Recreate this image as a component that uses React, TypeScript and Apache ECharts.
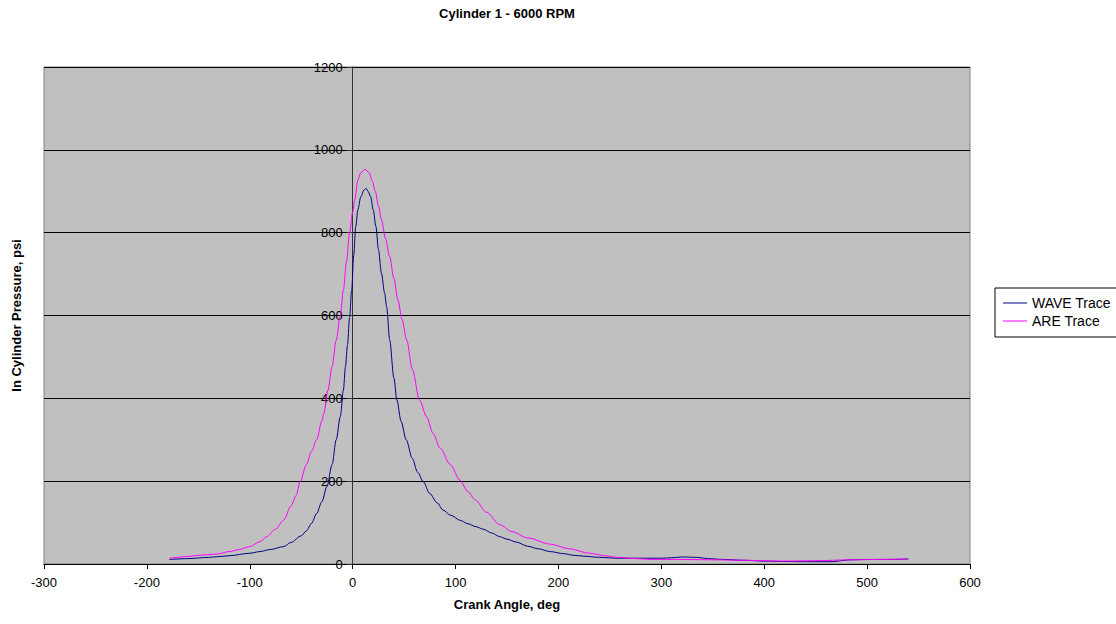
import React, { useEffect, useRef } from "react";
import * as echarts from "echarts";

const TITLE = "Cylinder 1 - 6000 RPM";
const X_NAME = "Crank Angle, deg";
const Y_NAME = "In Cylinder Pressure, psi";
const SERIES_NAMES = ["WAVE Trace", "ARE Trace"];

const waveX = [-178, -160, -140, -132, -120, -100, -90, -80, -67, -60, -50, -45, -40, -35, -30, -25, -20, -16, -12, -9, -7, -5, -3, -1, 1, 3, 5, 8, 11, 13, 15, 17.5, 20, 22.6, 25, 28, 31, 33, 36, 40, 43, 47, 52, 58, 63, 68.6, 75, 82, 88, 95, 105, 111, 120, 127, 135, 143, 150, 159, 170, 180, 192, 205, 215, 224, 240, 257, 280, 300, 310, 320, 335, 345, 360, 380, 400, 418, 440, 467, 475, 483, 500, 520, 540];
const waveY = [11, 13, 16, 17.5, 20, 26, 30, 35, 42, 52, 68, 80, 98, 122, 150, 187, 240, 300, 356, 420, 477, 530, 595, 660, 745, 815, 855, 887, 903, 907, 900, 887, 855, 815, 760, 702, 655, 621, 541, 450, 396, 345, 300, 255, 222, 199, 170, 148, 130, 118, 105, 98, 90, 84, 75, 66, 60, 53, 43, 37, 30, 25, 21, 19, 16, 14, 14, 14, 15, 17, 16, 13, 11, 9, 7, 6, 5.6, 5.6, 8, 10, 11, 11, 12];

const areX = [-178, -160, -150, -132, -120, -110, -100, -90, -83.6, -75, -67, -60, -55, -51, -45, -40, -35, -30, -28, -24, -20, -16, -12, -9, -6, -3, 0, 2, 5, 8, 12, 16, 19, 22, 25, 28, 32, 36, 40, 44, 48, 52.5, 58, 65, 72, 78, 85, 95, 104, 112, 119, 130, 143, 155, 170, 192, 210, 230, 245, 257, 275, 290, 320, 354, 380, 418, 450, 483, 510, 540];
const areY = [14, 18, 21, 24, 30, 35, 42, 54, 66, 84, 106, 140, 165, 199, 240, 272, 300, 345, 364, 420, 477, 540, 600, 662, 730, 800, 850, 879, 927, 945, 953, 945, 925, 900, 865, 831, 785, 742, 690, 638, 590, 541, 470, 396, 355, 316, 280, 240, 203, 175, 155, 125, 95, 78, 63, 48, 37, 26, 20, 16, 13, 11, 11, 10, 9, 7, 8, 10, 11, 12];

const X_MIN = -300;
const X_MAX = 600;

const FONT = "'Liberation Sans', Arial, sans-serif";

export default function App() {
  const ref = useRef<HTMLDivElement>(null);
  useEffect(() => {
    if (!ref.current) return;
    const chart = echarts.init(ref.current, undefined, { renderer: "svg" });
    const zip = (xs: number[], ys: number[]) => xs.map((x, i) => [x, ys[i]]);
    const gridLeft = 44;
    const gridRight = 146;
    const gridWidth = 1116 - gridLeft - gridRight;
    const zeroOffset = (gridWidth * (0 - X_MIN)) / (X_MAX - X_MIN);
    chart.setOption({
      animation: false,
      textStyle: { fontFamily: FONT },
      title: {
        text: TITLE,
        left: 507,
        top: 7,
        padding: 0,
        textAlign: "center",
        textStyle: { fontFamily: FONT, fontSize: 13, fontWeight: "bold", color: "#000" },
      },
      legend: {
        orient: "vertical",
        left: 995,
        top: 288,
        padding: [8, 30, 9, 8],
        itemGap: 4,
        itemWidth: 24,
        itemHeight: 1,
        icon: "rect",
        borderColor: "#000",
        borderWidth: 1,
        textStyle: { fontFamily: FONT, fontSize: 14, color: "#000" },
        data: SERIES_NAMES,
      },
      grid: {
        left: gridLeft,
        right: gridRight,
        top: 67,
        bottom: 60,
        containLabel: false,
        outerBoundsMode: "none",
        show: true,
        backgroundColor: "#c0c0c0",
        borderColor: "#808080",
        borderWidth: 1,
      },
      xAxis: {
        type: "value",
        min: X_MIN,
        max: X_MAX,
        interval: 100,
        name: X_NAME,
        nameLocation: "middle",
        nameGap: 34,
        nameTextStyle: { fontFamily: FONT, fontSize: 13, fontWeight: "bold", color: "#000" },
        axisLine: { show: true, onZero: false, lineStyle: { color: "#000", width: 1 } },
        axisTick: { show: true, length: 5, lineStyle: { color: "#000" } },
        axisLabel: { fontFamily: FONT, fontSize: 13, color: "#000", margin: 12, formatter: (v: number) => String(v) },
        splitLine: { show: false },
      },
      yAxis: {
        type: "value",
        min: 0,
        max: 1200,
        interval: 200,
        position: "left",
        offset: -zeroOffset,
        name: Y_NAME,
        nameLocation: "middle",
        nameRotate: 90,
        nameGap: 330,
        nameTextStyle: { fontFamily: FONT, fontSize: 13, fontWeight: "bold", color: "#000" },
        axisLine: { show: true, onZero: false, lineStyle: { color: "#333", width: 1 } },
        axisTick: { show: true, length: 6, lineStyle: { color: "#333" } },
        axisLabel: { fontFamily: FONT, fontSize: 13, color: "#000", margin: 10, formatter: (v: number) => String(v) },
        splitLine: { show: true, lineStyle: { color: "#000", width: 1 } },
      },
      series: [
        {
          name: SERIES_NAMES[0],
          type: "line",
          data: zip(waveX, waveY),
          showSymbol: false,
          symbol: "none",
          smooth: 0.3,
          smoothMonotone: "x",
          lineStyle: { color: "#000080", width: 1 },
          itemStyle: { color: "#000080" },
        },
        {
          name: SERIES_NAMES[1],
          type: "line",
          data: zip(areX, areY),
          showSymbol: false,
          symbol: "none",
          smooth: 0.3,
          smoothMonotone: "x",
          lineStyle: { color: "#ff00ff", width: 1 },
          itemStyle: { color: "#ff00ff" },
        },
      ],
    });
    return () => chart.dispose();
  }, []);
  return (
    <div
      ref={ref}
      style={{ position: "fixed", left: 0, top: 0, width: 1116, height: 624, background: "#fff" }}
    />
  );
}
